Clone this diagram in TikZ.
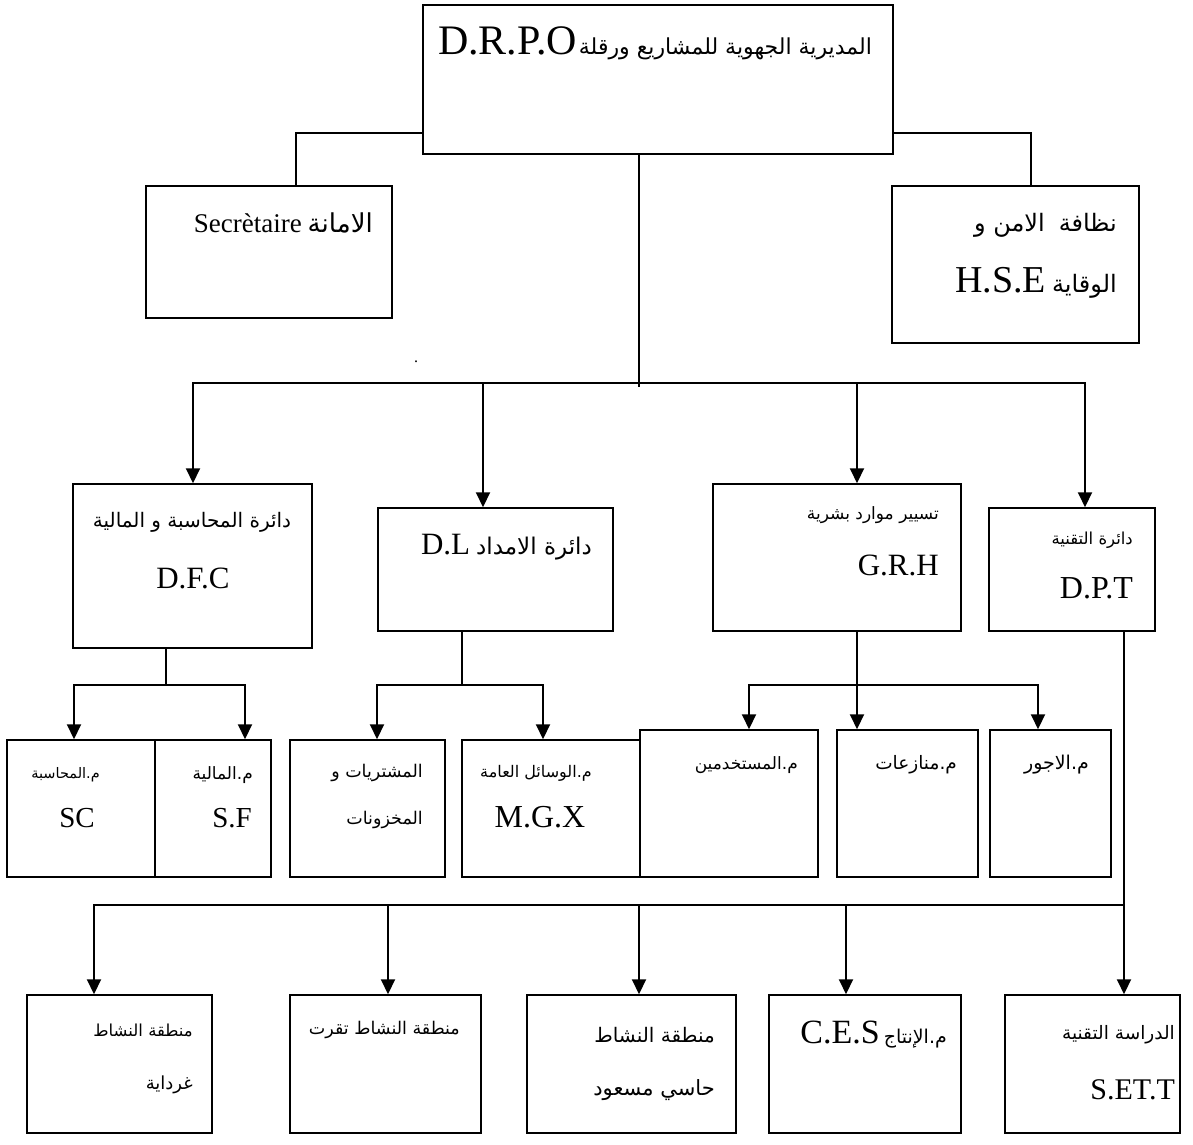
\documentclass[tikz,border=0pt]{standalone}
\usepackage{fontspec}
\setmainfont{Liberation Serif}
\newfontfamily\arabicfont[Script=Arabic]{DejaVu Sans}
\TeXXeTstate=1
\usetikzlibrary{arrows.meta}
\newcommand{\arf}[1]{\arabicfont\fontsize{#1}{#1}\selectfont}
\newcommand{\la}[2]{{\fontsize{#1}{#1}\selectfont #2}}
\begin{document}
\begin{tikzpicture}[x=1pt,y=-1pt,
  box/.style={draw, line width=1.5pt, inner sep=0pt},
  conn/.style={line width=2pt},
  tipA/.tip={Triangle[length=15pt,width=14pt]},
  arr/.style={conn, -tipA},
  arrb/.style={conn, tipA-tipA},
  arrs/.style={conn, tipA-},
  lbl/.style={inner sep=0pt, anchor=east},
  lblc/.style={inner sep=0pt, anchor=center}]
\useasboundingbox (0,0) rectangle (1193,1144);

% boxes
\node[box, minimum width=470pt, minimum height=149pt] (top) at (658,79.5) {};
\node[box, minimum width=246pt, minimum height=132pt] (sec) at (269,252) {};
\node[box, minimum width=247pt, minimum height=157pt] (hse) at (1015.5,264.5) {};
\node[box, minimum width=239pt, minimum height=164pt] (dfc) at (192.5,566) {};
\node[box, minimum width=235pt, minimum height=123pt] (dl) at (495.5,569.5) {};
\node[box, minimum width=248pt, minimum height=147pt] (grh) at (837,557.5) {};
\node[box, minimum width=166pt, minimum height=123pt] (dpt) at (1072,569.5) {};
\node[box, minimum width=148pt, minimum height=137pt] (sc) at (81,808.5) {};
\node[box, minimum width=116pt, minimum height=137pt] (sf) at (213,808.5) {};
\node[box, minimum width=155pt, minimum height=137pt] (mush) at (367.5,808.5) {};
\node[box, minimum width=178pt, minimum height=137pt] (mgx) at (551,808.5) {};
\node[box, minimum width=178pt, minimum height=147pt] (must) at (729,803.5) {};
\node[box, minimum width=141pt, minimum height=147pt] (mun) at (907.5,803.5) {};
\node[box, minimum width=121pt, minimum height=147pt] (ajr) at (1050.5,803.5) {};
\node[box, minimum width=185pt, minimum height=138pt] (gha) at (119.5,1064) {};
\node[box, minimum width=191pt, minimum height=138pt] (tug) at (385.5,1064) {};
\node[box, minimum width=209pt, minimum height=138pt] (hm) at (631.5,1064) {};
\node[box, minimum width=192pt, minimum height=138pt] (ces) at (865,1064) {};
\node[box, minimum width=175pt, minimum height=138pt] (sett) at (1092.5,1064) {};

% labels
\node[lblc] (ttop) at (655,43) {\la{42}{D.R.P.O}\hspace{2pt}{\arf{22}\beginR المديرية الجهوية للمشاريع ورقلة\endR}};
\node[lbl] (tsec) at (373,223) {\la{27}{Secrètaire}\hspace{6pt}{\arf{26}\beginR الامانة\endR}};
\node[lbl] (thse1) at (1117,225) {{\arf{24}\beginR نظافة\hspace{14pt}الامن و\endR}};
\node[lbl] (thse2) at (1117,283) {\la{38}{H.S.E}\hspace{6pt}{\arf{24}\beginR الوقاية\endR}};
\node[lblc] (tdfc1) at (192,522) {{\arf{20}\beginR دائرة المحاسبة و المالية\endR}};
\node[lblc] (tdfc2) at (193,578) {\la{31}{D.F.C}};
\node[lbl] (tdl) at (592,547) {\la{31}{D.L}\hspace{6pt}{\arf{23}\beginR دائرة الامداد\endR}};
\node[lbl] (tgrh1) at (939,515) {{\arf{17}\beginR تسيير موارد بشرية\endR}};
\node[lbl] (tgrh2) at (939,565) {\la{31}{G.R.H}};
\node[lbl] (tdpt1) at (1133,540) {{\arf{16.5}\beginR دائرة التقنية\endR}};
\node[lbl] (tdpt2) at (1133,588) {\la{32}{D.P.T}};
\node[lbl] (tsc1) at (100,775) {{\arf{14.5}\beginR م.المحاسبة\endR}};
\node[lblc] (tsc2) at (77,818) {\la{29}{SC}};
\node[lbl] (tsf1) at (253,775) {{\arf{17}\beginR م.المالية\endR}};
\node[lbl] (tsf2) at (252,818) {\la{29}{S.F}};
\node[lbl] (tmu1) at (423,773) {{\arf{17.5}\beginR المشتريات و\endR}};
\node[lbl] (tmu2) at (423,820) {{\arf{17.5}\beginR المخزونات\endR}};
\node[lbl] (tmg1) at (592,773) {{\arf{16}\beginR م.الوسائل العامة\endR}};
\node[lblc] (tmg2) at (540,817) {\la{32}{M.G.X}};
\node[lbl] (tmst) at (798,765) {{\arf{17}\beginR م.المستخدمين\endR}};
\node[lbl] (tmun) at (957,765) {{\arf{18.5}\beginR م.منازعات\endR}};
\node[lbl] (tajr) at (1089,765) {{\arf{19}\beginR م.الاجور\endR}};
\node[lbl] (tgh1) at (193,1030) {{\arf{16.5}\beginR منطقة النشاط\endR}};
\node[lbl] (tgh2) at (193,1085) {{\arf{18}\beginR غرداية\endR}};
\node[lbl] (ttug) at (460,1030) {{\arf{17.5}\beginR منطقة النشاط تقرت\endR}};
\node[lbl] (thm1) at (715,1035) {{\arf{20}\beginR منطقة النشاط\endR}};
\node[lbl] (thm2) at (715,1090) {{\arf{21}\beginR حاسي مسعود\endR}};
\node[lbl] (tces) at (947,1035) {\la{34}{C.E.S}\hspace{4pt}{\arf{19}\beginR م.الإنتاج\endR}};
\node[lbl] (tst1) at (1175,1035) {{\arf{18.5}\beginR الدراسة التقنية\endR}};
\node[lbl] (tst2) at (1175,1090) {\la{30}{S.ET.T}};
\node[lblc] (dot) at (416,362) {\la{16}{.}};

% connectors
\coordinate (jt) at (639,383);
\coordinate (jt2) at (639,387);
\coordinate (jl) at (296,133);
\coordinate (jr) at (1031,133);
\draw[conn] (top.south -| jt) -- (jt2);
\draw[conn] (sec.north -| jl) |- (top.west |- jl);
\draw[conn] (hse.north -| jr) |- (top.east |- jr);

\coordinate (b1) at (193,383);
\coordinate (b2) at (483,383);
\coordinate (b3) at (857,383);
\coordinate (b4) at (1085,383);
\draw[arrb] (dfc.north -| b1) |- (b4) -- (dpt.north -| b4);
\draw[arr] (b2) -- (dl.north -| b2);
\draw[arr] (b3) -- (grh.north -| b3);

\coordinate (d1) at (166,685);
\coordinate (d1l) at (74,685);
\coordinate (d1r) at (245,685);
\draw[conn] (dfc.south -| d1) -- (d1);
\draw[arrb] (sc.north -| d1l) |- (d1r) -- (sf.north -| d1r);

\coordinate (d2) at (462,685);
\coordinate (d2l) at (377,685);
\coordinate (d2r) at (543,685);
\draw[conn] (dl.south -| d2) -- (d2);
\draw[arrb] (mush.north -| d2l) |- (d2r) -- (mgx.north -| d2r);

\coordinate (d3) at (857,685);
\coordinate (d3l) at (749,685);
\coordinate (d3r) at (1038,685);
\draw[arr] (grh.south -| d3) -- (mun.north -| d3);
\draw[arrb] (must.north -| d3l) |- (d3r) -- (ajr.north -| d3r);

\coordinate (e5) at (1124,905);
\coordinate (e1) at (94,905);
\coordinate (e2) at (388,905);
\coordinate (e3) at (639,905);
\coordinate (e4) at (846,905);
\draw[arr] (dpt.south -| e5) -- (sett.north -| e5);
\draw[arrs] (gha.north -| e1) |- (e5);
\draw[arr] (e2) -- (tug.north -| e2);
\draw[arr] (e3) -- (hm.north -| e3);
\draw[arr] (e4) -- (ces.north -| e4);
\end{tikzpicture}
\end{document}
